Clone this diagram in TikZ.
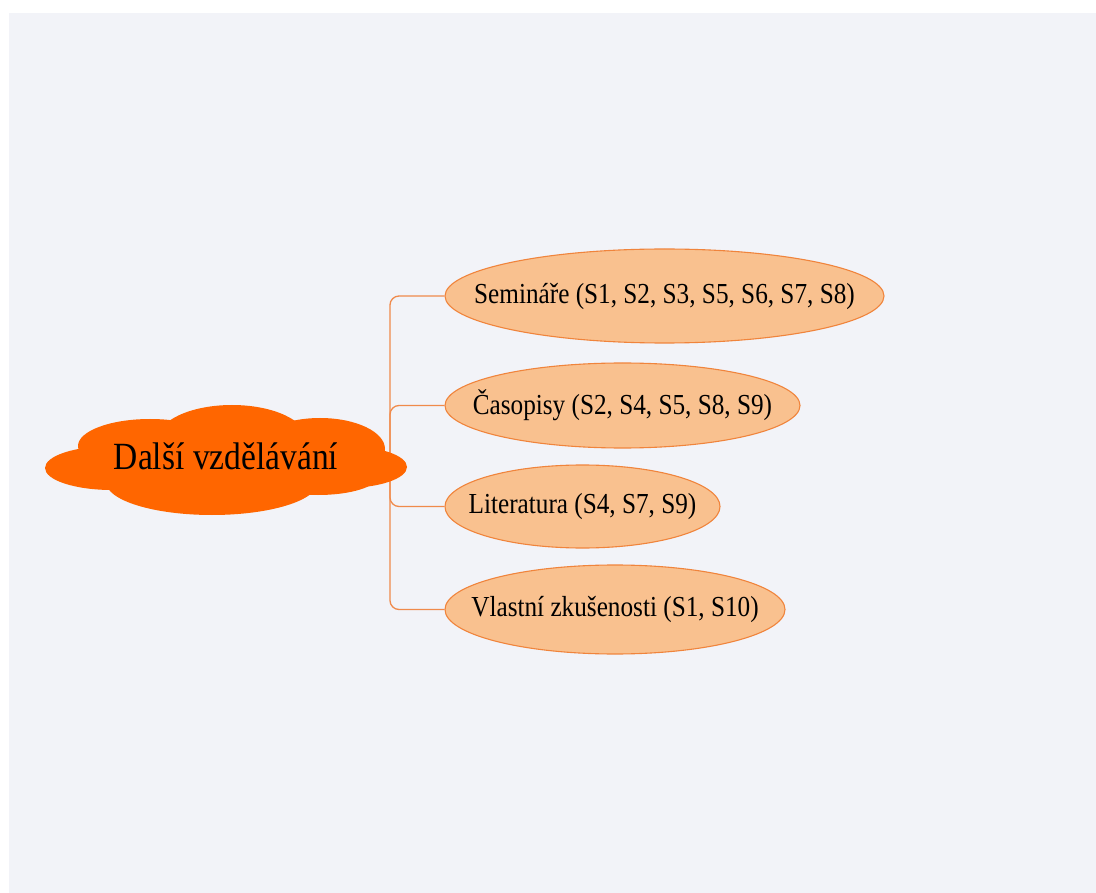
\documentclass[tikz,border=0pt]{standalone}
\usepackage{graphicx}
\usepackage{fontspec}
\setmainfont{Liberation Serif}
\usetikzlibrary{shapes.geometric}
\definecolor{bgc}{HTML}{F2F3F8}
\definecolor{cloudc}{HTML}{FF6600}
\definecolor{ellfill}{HTML}{F9C18F}
\definecolor{elldraw}{HTML}{F0843C}
\definecolor{linec}{HTML}{F08A4B}
\newcommand\narrowtext[1]{\scalebox{0.87}[1]{#1}}
\tikzset{
  topic/.style={ellipse, fill=ellfill, draw=elldraw, line width=1.1pt, inner sep=0pt},
  topictext/.style={inner sep=0pt, font=\fontsize{29}{34}\selectfont, text=black},
  link/.style={draw=linec, line width=1.3pt, rounded corners=9pt},
  puff/.style={fill=cloudc, draw=none},
  roottext/.style={inner sep=0pt, font=\fontsize{38.5}{44}\selectfont, text=black}
}
\begin{document}
\begin{tikzpicture}[x=1pt,y=-1pt]
\useasboundingbox (0,0) rectangle (1096,893);
\fill[white] (0,0) rectangle (1096,893);
\fill[bgc] (9,13) rectangle (1096,893);
% topics
\node[topic, minimum width=439pt, minimum height=94pt] (sem) at (664.5,296) {};
\node[topictext] (semt) at (sem.center) {\narrowtext{Semináře (S1, S2, S3, S5, S6, S7, S8)}};
\node[topic, minimum width=355pt, minimum height=85pt] (cas) at (622.5,405.5) {};
\node[topictext] (cast) at (cas.center) {\narrowtext{Časopisy (S2, S4, S5, S8, S9)}};
\node[topic, minimum width=275pt, minimum height=83pt] (lit) at (582.5,506.5) {};
\node[topictext] (litt) at (lit.center) {\narrowtext{Literatura (S4, S7, S9)}};
\node[topic, minimum width=340pt, minimum height=89pt] (vla) at (615,609.5) {};
\node[topictext] (vlat) at (vla.center) {\narrowtext{Vlastní zkušenosti (S1, S10)}};
% connectors
\coordinate (trunk) at (390,460);
\draw[link] (trunk) |- (sem.west);
\draw[link] (trunk) |- (cas.west);
\draw[link] (trunk) |- (lit.west);
\draw[link] (trunk) |- (vla.west);
% cloud
\fill[puff] (112,468) ellipse [x radius=67, y radius=22];
\fill[puff] (150,446) ellipse [x radius=72, y radius=27];
\fill[puff] (232,440) ellipse [x radius=75, y radius=35];
\fill[puff] (320,449) ellipse [x radius=65, y radius=31];
\fill[puff] (345,467) ellipse [x radius=62, y radius=21];
\fill[puff] (318,476) ellipse [x radius=60, y radius=19];
\fill[puff] (212,482) ellipse [x radius=106, y radius=33];
\fill[puff] (226,462) ellipse [x radius=150, y radius=30];
\node[roottext] (root) at (226,456) {\narrowtext{Další vzdělávání}};
\end{tikzpicture}
\end{document}
